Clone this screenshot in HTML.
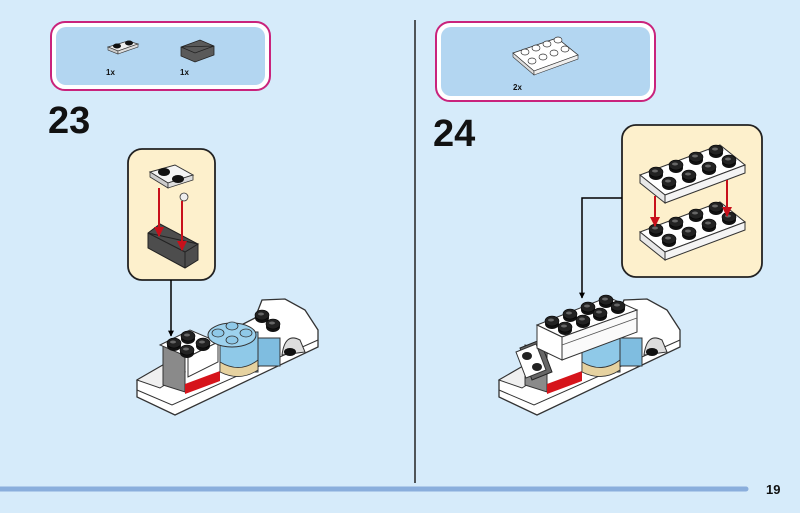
<!DOCTYPE html>
<html><head><meta charset="utf-8"><style>
html,body{margin:0;padding:0;background:#d6ebfa;}
svg{display:block}
text{font-family:"Liberation Sans",sans-serif;font-weight:bold;fill:#111}
</style></head><body>
<svg width="800" height="513" viewBox="0 0 800 513" xmlns="http://www.w3.org/2000/svg">
<defs>
<g id="car">
  <polygon points="137,380 163,365 255,318 262,300 285,299 305,310 318,330 318,347 175,415 137,397" fill="#fff" stroke="#333" stroke-width="1.3"/>
  <polyline points="137,390 172,405 318,340" fill="none" stroke="#333" stroke-width="1"/>
  <polygon points="137,380 163,365 185,372 160,388" fill="#f0f0f0" stroke="#333" stroke-width="1"/>
  <polygon points="163,345 185,352 185,392 163,385" fill="#8a8a8a" stroke="#333" stroke-width="1"/>
  <polygon points="185,384 220,371 220,381 185,394" fill="#d6141b"/>
  <rect x="220" y="332" width="38" height="40" fill="#8fc9e8" stroke="#333" stroke-width="1"/>
  <path d="M220,362 Q240,374 258,360 L258,370 Q240,382 220,372 Z" fill="#e6d2a0" stroke="#333" stroke-width="0.8"/>
  <rect x="258" y="338" width="22" height="28" fill="#7fbde0" stroke="#333" stroke-width="1"/>
  <path d="M282,355 Q285,332 300,340 L305,352 Z" fill="#ddd" stroke="#333" stroke-width="1"/>
  <ellipse cx="290" cy="352" rx="6" ry="4" fill="#111"/>
</g>
<g id="stud"><ellipse cx="0" cy="2" rx="7" ry="5" fill="#111"/><ellipse cx="0" cy="-1" rx="7" ry="5" fill="#222" stroke="#000" stroke-width="0.6"/><ellipse cx="-1" cy="-2" rx="3" ry="1.5" fill="#666"/></g>
<marker id="ar" viewBox="0 0 10 10" refX="9" refY="5" markerWidth="5" markerHeight="5" orient="auto"><path d="M0,0 L10,5 L0,10 Z" fill="#c8101b"/></marker>
<marker id="ab" viewBox="0 0 10 10" refX="9" refY="5" markerWidth="4" markerHeight="4" orient="auto"><path d="M0,0 L10,5 L0,10 Z" fill="#000"/></marker>
</defs>

<line x1="415" y1="20" x2="415" y2="483" stroke="#222" stroke-width="1.5"/>
<line x1="0" y1="489" x2="746" y2="489" stroke="#8aaedc" stroke-width="5" stroke-linecap="round"/>
<text x="766" y="494" font-size="13">19</text>

<rect x="51" y="22" width="219" height="68" rx="14" fill="#fff" stroke="#c9237c" stroke-width="2"/>
<rect x="56" y="27" width="209" height="58" rx="10" fill="#b3d6f1"/>
<polygon points="108,47 128,41 138,44 118,51" fill="#eee" stroke="#333" stroke-width="0.8"/>
<polygon points="108,47 118,51 118,54 108,50" fill="#ccc" stroke="#333" stroke-width="0.6"/>
<polygon points="118,51 138,44 138,47 118,54" fill="#ddd" stroke="#333" stroke-width="0.6"/>
<ellipse cx="117" cy="46" rx="4" ry="2.5" fill="#111"/><ellipse cx="129" cy="43" rx="4" ry="2.5" fill="#111"/>
<polygon points="181,47 200,40 214,46 214,55 195,62 181,56" fill="#5a5a5a" stroke="#222" stroke-width="0.8"/>
<polygon points="181,47 195,53 214,46" fill="none" stroke="#222" stroke-width="0.8"/>
<text x="106" y="75" font-size="8">1x</text>
<text x="180" y="75" font-size="8">1x</text>

<rect x="436" y="22" width="219" height="79" rx="14" fill="#fff" stroke="#c9237c" stroke-width="2"/>
<rect x="441" y="27" width="209" height="69" rx="10" fill="#b3d6f1"/>
<polygon points="513,53 557,38 578,55 534,71" fill="#fff" stroke="#333" stroke-width="0.8"/>
<polygon points="513,53 534,71 534,75 513,57" fill="#ddd" stroke="#333" stroke-width="0.6"/>
<polygon points="534,71 578,55 578,59 534,75" fill="#eee" stroke="#333" stroke-width="0.6"/>
<g fill="#fff" stroke="#333" stroke-width="0.7">
<ellipse cx="525" cy="52" rx="4" ry="3"/><ellipse cx="536" cy="48" rx="4" ry="3"/><ellipse cx="547" cy="44" rx="4" ry="3"/><ellipse cx="558" cy="40" rx="4" ry="3"/>
<ellipse cx="532" cy="61" rx="4" ry="3"/><ellipse cx="543" cy="57" rx="4" ry="3"/><ellipse cx="554" cy="53" rx="4" ry="3"/><ellipse cx="565" cy="49" rx="4" ry="3"/>
</g>
<text x="513" y="90" font-size="8">2x</text>

<text x="48" y="133" font-size="38">23</text>
<text x="433" y="146" font-size="38">24</text>

<rect x="128" y="149" width="87" height="131" rx="14" fill="#fdf0cc" stroke="#222" stroke-width="1.8"/>
<polygon points="150,172 175,165 193,175 168,183" fill="#f4f4f4" stroke="#333" stroke-width="1"/>
<polygon points="150,172 168,183 168,188 150,177" fill="#ccc" stroke="#333" stroke-width="0.8"/>
<polygon points="168,183 193,175 193,180 168,188" fill="#ddd" stroke="#333" stroke-width="0.8"/>
<ellipse cx="164" cy="172" rx="6" ry="4" fill="#111"/><ellipse cx="178" cy="179" rx="6" ry="4" fill="#111"/>
<circle cx="184" cy="197" r="4" fill="#eee" stroke="#333" stroke-width="0.8"/>
<polygon points="148,233 160,224 198,244 198,260 185,268 148,248" fill="#4d4d4d" stroke="#222" stroke-width="1"/>
<polygon points="148,233 185,252 198,244" fill="none" stroke="#222" stroke-width="1"/>
<line x1="185" y1="252" x2="185" y2="268" stroke="#222"/>
<line x1="159" y1="188" x2="159" y2="236" stroke="#c8101b" stroke-width="2" marker-end="url(#ar)"/>
<line x1="182" y1="201" x2="182" y2="250" stroke="#c8101b" stroke-width="2" marker-end="url(#ar)"/>
<line x1="171" y1="280" x2="171" y2="336" stroke="#000" stroke-width="1.5" marker-end="url(#ab)"/>

<use href="#car"/>
<polygon points="160,345 190,330 218,342 188,357" fill="#fff" stroke="#333" stroke-width="1"/>
<polygon points="188,357 218,342 218,362 188,377" fill="#fff" stroke="#333" stroke-width="1"/>
<use href="#stud" x="174" y="344"/><use href="#stud" x="188" y="337"/><use href="#stud" x="187" y="351"/><use href="#stud" x="203" y="344"/>
<ellipse cx="232" cy="335" rx="24" ry="12" fill="#9dd2ee" stroke="#333" stroke-width="1"/>
<g fill="#8fc9e8" stroke="#333" stroke-width="0.8">
<ellipse cx="218" cy="333" rx="6" ry="4"/><ellipse cx="232" cy="326" rx="6" ry="4"/><ellipse cx="232" cy="340" rx="6" ry="4"/><ellipse cx="246" cy="333" rx="6" ry="4"/></g>
<use href="#stud" x="262" y="316"/><use href="#stud" x="273" y="325"/>

<rect x="622" y="125" width="140" height="152" rx="14" fill="#fdf0cc" stroke="#222" stroke-width="1.8"/>
<g id="plate">
<polygon points="640,175 720,145 745,165 665,195" fill="#fff" stroke="#333" stroke-width="1"/>
<polygon points="640,175 665,195 665,203 640,183" fill="#e8e8e8" stroke="#333" stroke-width="1"/>
<polygon points="665,195 745,165 745,173 665,203" fill="#f4f4f4" stroke="#333" stroke-width="1"/>
<use href="#stud" x="656" y="173"/><use href="#stud" x="676" y="166"/><use href="#stud" x="696" y="158"/><use href="#stud" x="716" y="151"/>
<use href="#stud" x="669" y="183"/><use href="#stud" x="689" y="176"/><use href="#stud" x="709" y="168"/><use href="#stud" x="729" y="161"/>
</g>
<use href="#plate" y="57"/>
<line x1="655" y1="196" x2="655" y2="226" stroke="#c8101b" stroke-width="2" marker-end="url(#ar)"/>
<line x1="727" y1="180" x2="727" y2="216" stroke="#c8101b" stroke-width="2" marker-end="url(#ar)"/>
<polyline points="622,198 582,198 582,298" fill="none" stroke="#000" stroke-width="1.5" marker-end="url(#ab)"/>

<use href="#car" x="362"/>
<polygon points="520,348 540,340 552,372 532,380" fill="#666" stroke="#222" stroke-width="1"/>
<polygon points="516,352 536,344 546,370 526,378" fill="#fff" stroke="#333" stroke-width="1"/>
<ellipse cx="527" cy="356" rx="5" ry="4" fill="#222"/><ellipse cx="537" cy="367" rx="5" ry="4" fill="#222"/>
<polygon points="537,325 608,297 637,310 562,337" fill="#fff" stroke="#333" stroke-width="1"/>
<polygon points="537,325 562,337 562,360 537,348" fill="#fff" stroke="#333" stroke-width="1"/>
<polygon points="562,337 637,310 637,332 562,360" fill="#fafafa" stroke="#333" stroke-width="1"/>
<line x1="562" y1="345" x2="637" y2="318" stroke="#555" stroke-width="0.8"/>
<use href="#stud" x="552" y="322"/><use href="#stud" x="570" y="315"/><use href="#stud" x="588" y="308"/><use href="#stud" x="606" y="301"/>
<use href="#stud" x="565" y="328"/><use href="#stud" x="583" y="321"/><use href="#stud" x="600" y="314"/><use href="#stud" x="618" y="307"/>
</svg>
</body></html>
